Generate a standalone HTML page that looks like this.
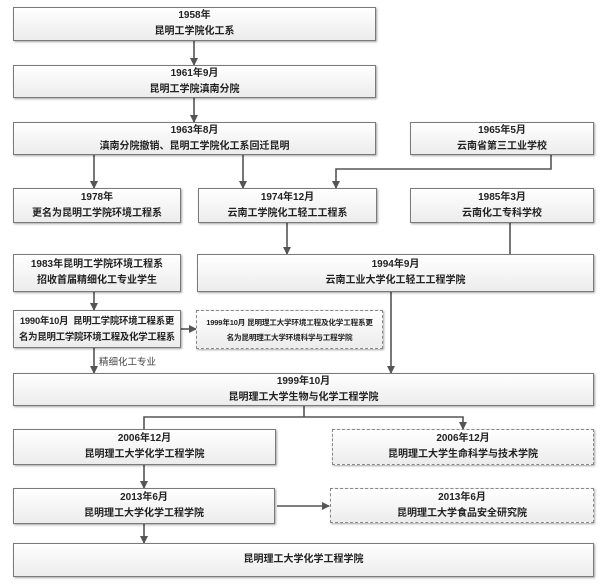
<!DOCTYPE html>
<html><head><meta charset="utf-8"><style>
body{margin:0;width:600px;height:587px;background:#fff;position:relative;overflow:hidden;font-family:"Liberation Sans","Noto Sans CJK SC",sans-serif;}
.b{position:absolute;box-sizing:border-box;border:1px solid #7a7a7a;background:linear-gradient(#ffffff,#ececec);box-shadow:1px 1px 2px rgba(0,0,0,0.35);display:flex;flex-direction:column;justify-content:center;align-items:center;font-weight:bold;font-size:10px;color:#222;line-height:16px;text-align:center;white-space:nowrap;}
.d{border:1.5px dashed #888;}
.s{font-size:7.6px;line-height:15px;letter-spacing:-0.2px;}
svg{position:absolute;left:0;top:0;}
</style></head><body>
<svg width="600" height="587">
<defs><marker id="a" markerWidth="8" markerHeight="8" refX="7" refY="4" orient="auto" markerUnits="userSpaceOnUse"><path d="M0,0 L8,4 L0,8 Z" fill="#555"/></marker></defs>
<g stroke="#555" stroke-width="1.6" fill="none">
<line x1="194" y1="41" x2="194" y2="65" marker-end="url(#a)"/>
<line x1="194" y1="98" x2="194" y2="122" marker-end="url(#a)"/>
<line x1="94" y1="155" x2="94" y2="188" marker-end="url(#a)"/>
<line x1="243" y1="155" x2="243" y2="188" marker-end="url(#a)"/>
<polyline points="551,155 551,169 336,169 336,188" marker-end="url(#a)"/>
<line x1="287" y1="223" x2="287" y2="254" marker-end="url(#a)"/>
<line x1="510" y1="223" x2="510" y2="254"/>
<line x1="94" y1="292" x2="94" y2="310" marker-end="url(#a)"/>
<line x1="181" y1="329" x2="196" y2="329" marker-end="url(#a)"/>
<line x1="94" y1="348" x2="94" y2="373" marker-end="url(#a)"/>
<line x1="391" y1="292" x2="391" y2="373" marker-end="url(#a)"/>
<line x1="304" y1="406" x2="304" y2="417"/>
<polyline points="144,429 144,417 463,417 463,429" marker-end="url(#a)"/>
<line x1="144" y1="465" x2="144" y2="488" marker-end="url(#a)"/>
<line x1="277" y1="506" x2="329" y2="506" marker-end="url(#a)"/>
<line x1="144" y1="524" x2="144" y2="543" marker-end="url(#a)"/>
</g>
<text x="99" y="365" font-size="9.5" fill="#444" font-family="Liberation Sans, Noto Sans CJK SC, sans-serif">精细化工专业</text>
</svg>
<div class="b" style="left:13px;top:7px;width:363px;height:34px">1958年<br>昆明工学院化工系</div>
<div class="b" style="left:13px;top:65px;width:363px;height:33px">1961年9月<br>昆明工学院滇南分院</div>
<div class="b" style="left:13px;top:122px;width:363px;height:33px">1963年8月<br>滇南分院撤销、昆明工学院化工系回迁昆明</div>
<div class="b" style="left:410px;top:122px;width:184px;height:33px">1965年5月<br>云南省第三工业学校</div>
<div class="b" style="left:13px;top:188px;width:168px;height:35px">1978年<br>更名为昆明工学院环境工程系</div>
<div class="b" style="left:198px;top:188px;width:179px;height:35px">1974年12月<br>云南工学院化工轻工工程系</div>
<div class="b" style="left:410px;top:188px;width:184px;height:35px">1985年3月<br>云南化工专科学校</div>
<div class="b" style="left:13px;top:254px;width:168px;height:38px">1983年昆明工学院环境工程系<br>招收首届精细化工专业学生</div>
<div class="b" style="left:197px;top:254px;width:397px;height:38px">1994年9月<br>云南工业大学化工轻工工程学院</div>
<div class="b" style="left:13px;top:310px;width:168px;height:38px;font-size:9.4px;letter-spacing:-0.2px">1990年10月&nbsp; 昆明工学院环境工程系更<br>名为昆明工学院环境工程及化学工程系</div>
<div class="b d s" style="left:196px;top:310px;width:187px;height:39px">1999年10月 昆明理工大学环境工程及化学工程系更<br>名为昆明理工大学环境科学与工程学院</div>
<div class="b" style="left:13px;top:373px;width:581px;height:33px">1999年10月<br>昆明理工大学生物与化学工程学院</div>
<div class="b" style="left:13px;top:429px;width:263px;height:36px">2006年12月<br>昆明理工大学化学工程学院</div>
<div class="b d" style="left:332px;top:429px;width:262px;height:36px">2006年12月<br>昆明理工大学生命科学与技术学院</div>
<div class="b" style="left:13px;top:488px;width:262px;height:36px">2013年6月<br>昆明理工大学化学工程学院</div>
<div class="b d" style="left:330px;top:488px;width:264px;height:35px">2013年6月<br>昆明理工大学食品安全研究院</div>
<div class="b" style="left:13px;top:543px;width:581px;height:34px">昆明理工大学化学工程学院</div>
</body></html>
